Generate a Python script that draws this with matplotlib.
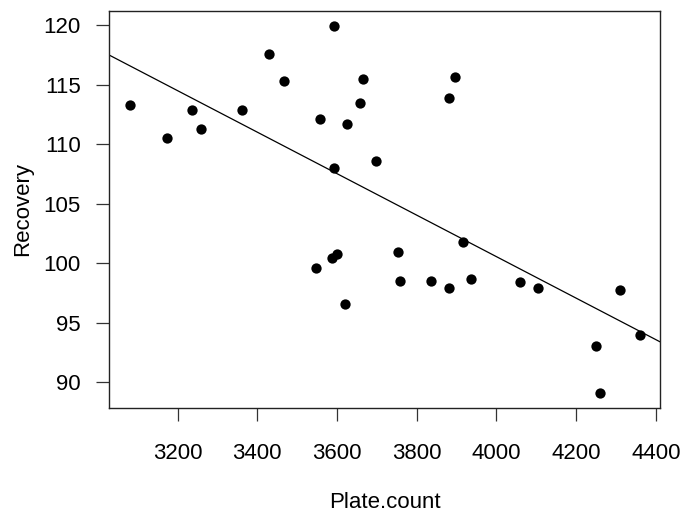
import matplotlib
matplotlib.use("Agg")
import matplotlib.pyplot as plt

plt.rcParams['font.family'] = ['Liberation Sans', 'DejaVu Sans']

# data
plate_count = [3080, 3174, 3237, 3259, 3361, 3430, 3467, 3592, 3557, 3624,
               3657, 3665, 3697, 3592, 3896, 3880, 3547, 3587, 3599, 3620,
               3752, 3759, 3836, 3880, 3916, 3935, 4059, 4103, 4250, 4260,
               4311, 4359]
recovery = [113.3, 110.5, 112.85, 111.25, 112.85, 117.6, 115.3, 119.95, 112.1, 111.7,
            113.45, 115.5, 108.55, 107.95, 115.65, 113.9, 99.6, 100.45, 100.8, 96.55,
            100.95, 98.5, 98.5, 97.9, 101.8, 98.65, 98.4, 97.9, 93.0, 89.1,
            97.75, 93.95]

# fitted line (intercept, slope)
fit_a = 170.3
fit_b = -0.01744

xticks = [3200, 3400, 3600, 3800, 4000, 4200, 4400]
yticks = [90, 95, 100, 105, 110, 115, 120]

fig = plt.figure(figsize=(6.83, 5.14), dpi=100)
ax = fig.add_axes([109.3/683, 1-407.5/514, (660-109.3)/683, (407.5-11)/514])

ax.scatter(plate_count, recovery, s=55, color='black', zorder=3, linewidths=0)

xmin, xmax = min(plate_count), max(plate_count)
ymin, ymax = min(recovery), max(recovery)
dx = (xmax - xmin) * 0.04
dy = (ymax - ymin) * 0.04
ax.set_xlim(xmin - dx, xmax + dx)
ax.set_ylim(ymin - dy, ymax + dy)

x0, x1 = ax.get_xlim()
ax.plot([x0, x1], [fit_a + fit_b*x0, fit_a + fit_b*x1], color='black', lw=0.9)

ax.set_xticks(xticks)
ax.set_yticks(yticks)
ax.tick_params(axis='both', labelsize=16, length=9.5, width=0.9, color='#333333')
ax.tick_params(axis='x', pad=16)
ax.tick_params(axis='y', pad=11)
for s in ax.spines.values():
    s.set_linewidth(1.0)
    s.set_color('#222222')

ax.set_xlabel("Plate.count", fontsize=16)
ax.set_ylabel("Recovery", fontsize=16)
ax.xaxis.set_label_coords(0.5, -0.212)
ax.yaxis.set_label_coords(-0.139, 0.5)

fig.savefig("out.png", dpi=100)
